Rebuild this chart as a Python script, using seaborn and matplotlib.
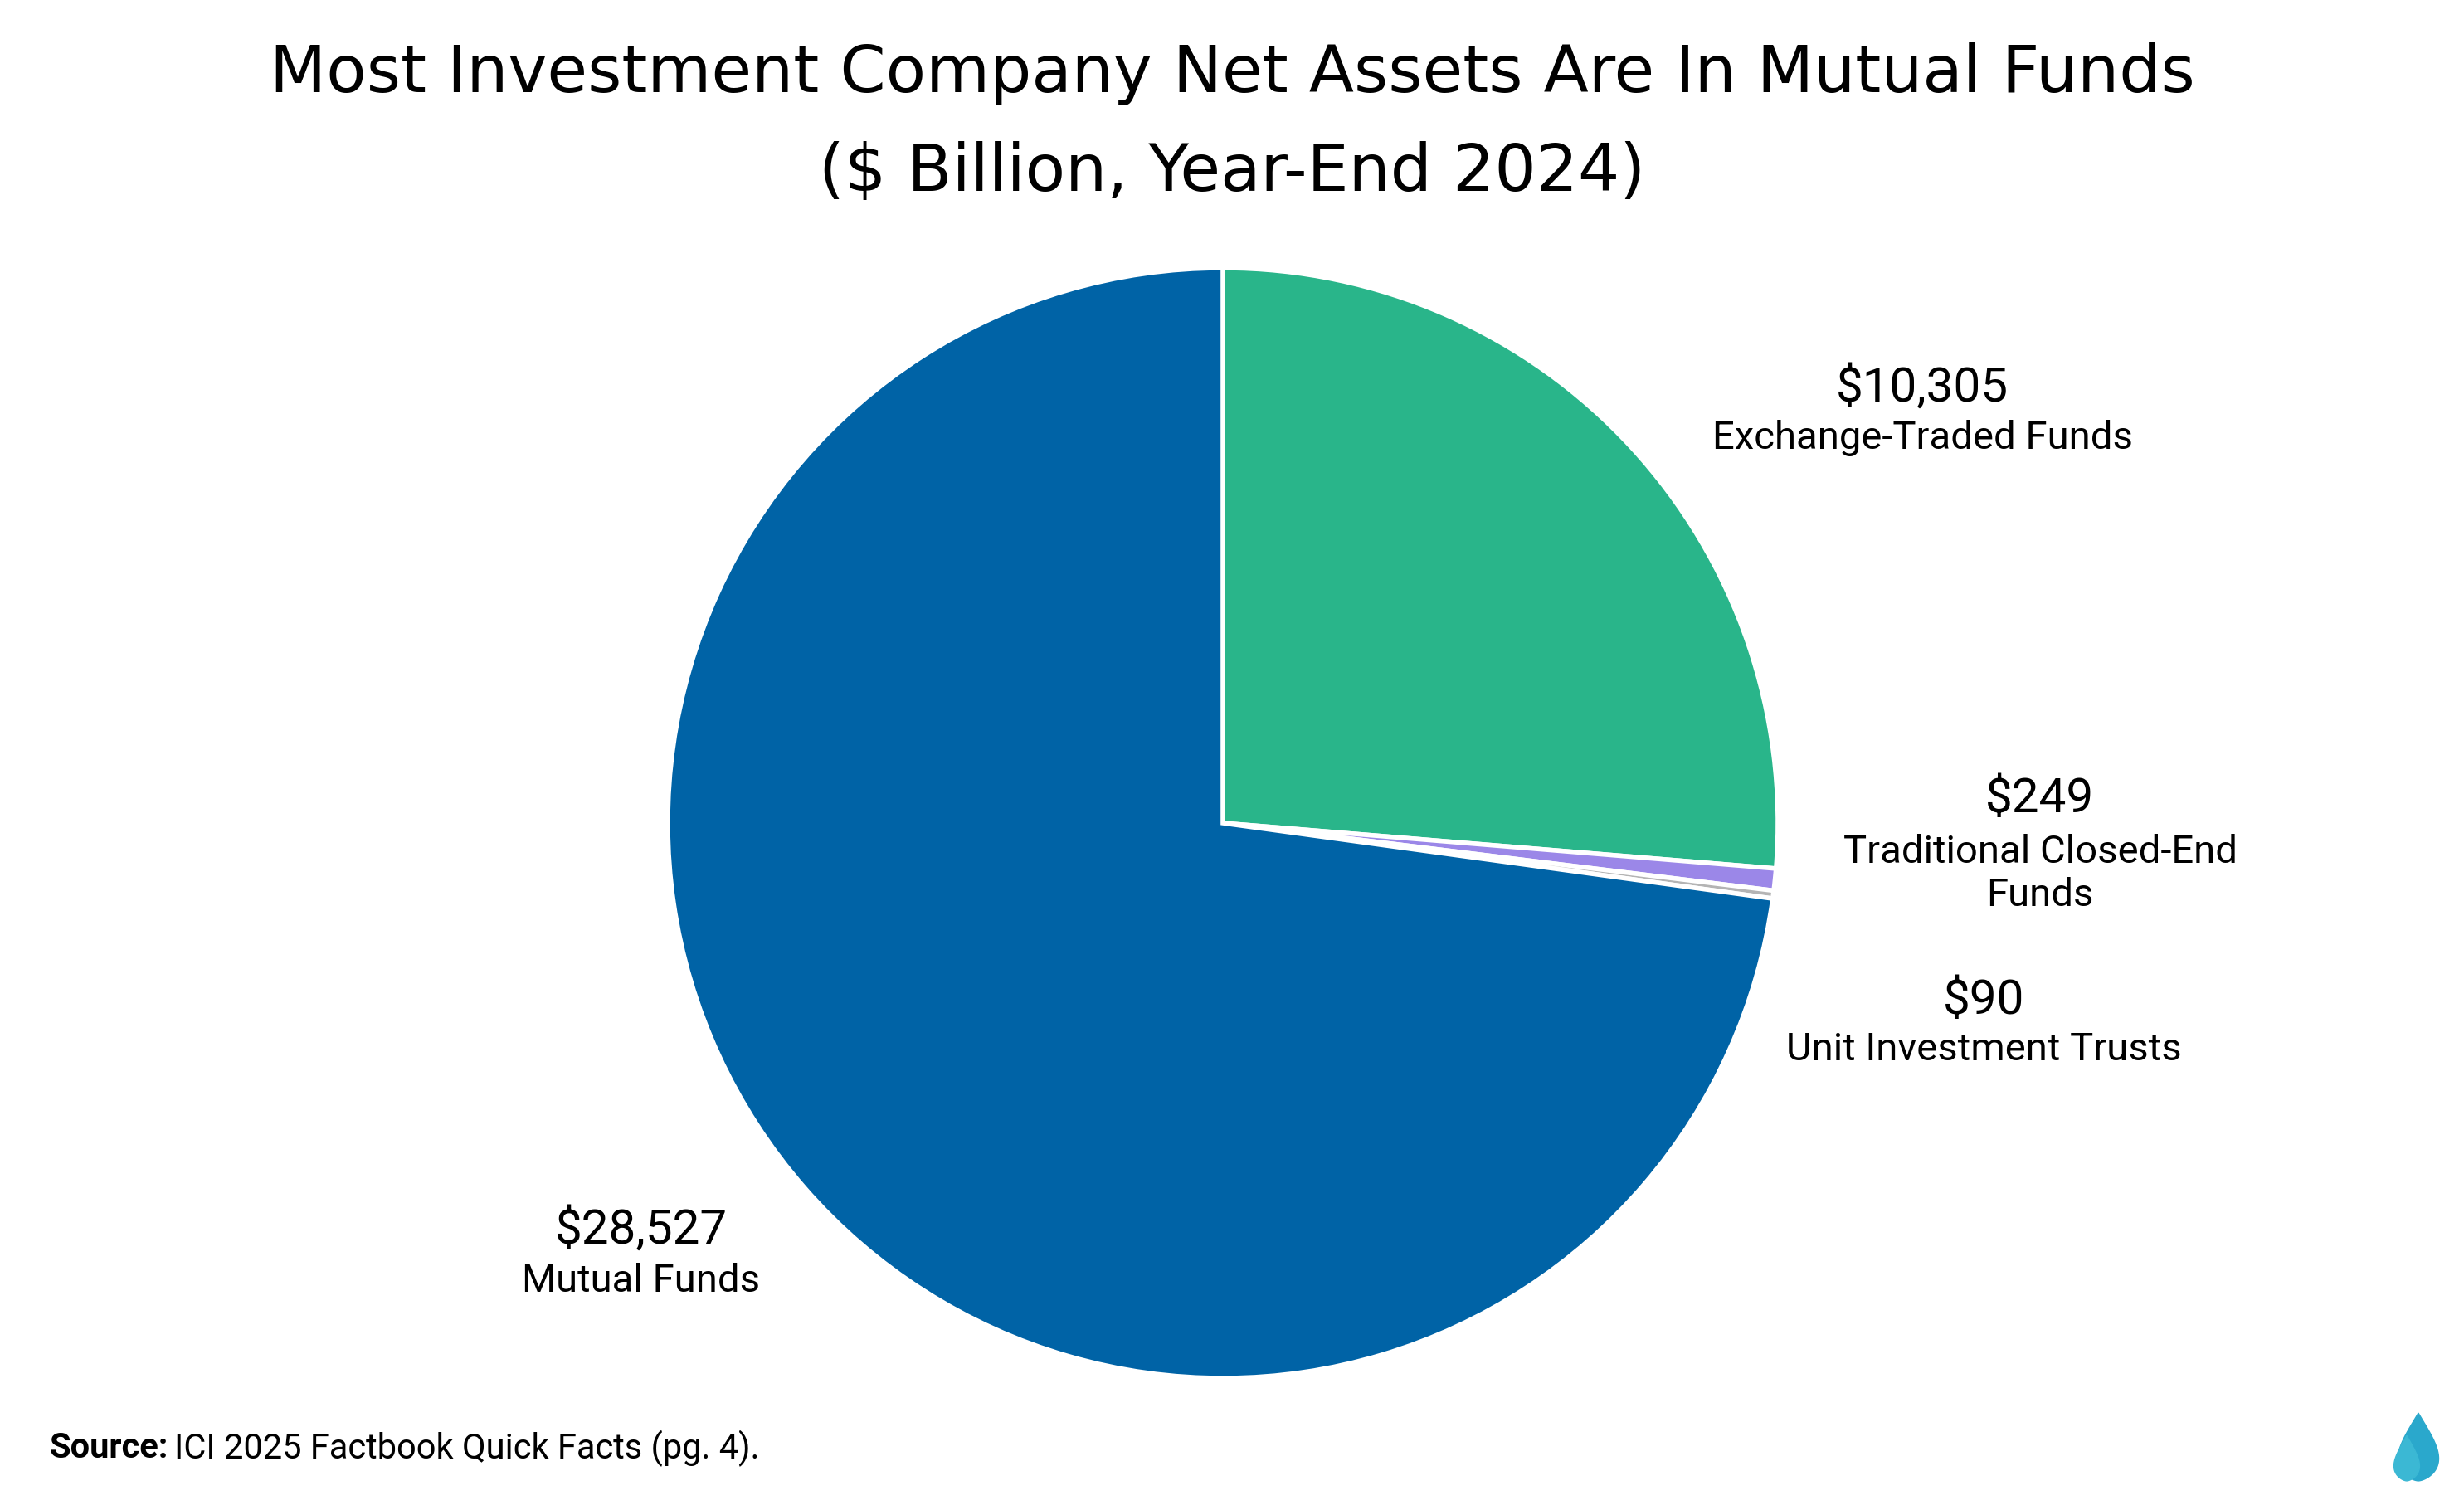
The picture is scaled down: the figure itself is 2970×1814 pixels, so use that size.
import numpy as np
import pandas as pd
import seaborn as sns
import matplotlib.pyplot as plt
from matplotlib import font_manager

# Data (net assets, $ billion, year-end 2024)
categories = ['Exchange-Traded Funds', 'Traditional Closed-End\nFunds', 'Unit Investment Trusts', 'Mutual Funds']
values = [10305, 249, 90, 28527]
value_labels = ['$10,305', '$249', '$90', '$28,527']
colors = ['#29b58a', '#9b87e8', '#b4b4b4', '#0063a6']

df = pd.DataFrame({'category': categories, 'value': values})

sns.set_style('white')
installed = {f.name for f in font_manager.fontManager.ttflist}
narrow = 'Liberation Sans Narrow' if 'Liberation Sans Narrow' in installed else 'Roboto'
plt.rcParams['font.family'] = ['DejaVu Sans']
plt.rcParams['text.color'] = 'black'

W, H = 2970, 1815
fig = plt.figure(figsize=(W / 100, H / 100), dpi=100)
fig.patch.set_facecolor('white')

# pie axes: centre (1474, 993), radius 669 px
cx, cy, r = 1474, 993, 669
ax = fig.add_axes([(cx - r) / W, (H - cy - r) / H, 2 * r / W, 2 * r / H])
ax.pie(df['value'], colors=colors, startangle=90, counterclock=False,
       wedgeprops=dict(edgecolor='white', linewidth=4))
ax.set_xlim(-1, 1)
ax.set_ylim(-1, 1)
ax.axis('off')

# titles
fig.text(0.5, 1 - 89 / H, 'Most Investment Company Net Assets Are In Mutual Funds',
         ha='center', va='center', fontsize=57, color='black')
fig.text(0.5, 1 - 208 / H, '($ Billion, Year-End 2024)',
         ha='center', va='center', fontsize=57, color='black')

# slice labels (pixel positions)
label_pos = [(2317, 468, 528), (2459, 964, 1053), (2391, 1207, 1265), (773, 1483, 1544)]
for (x, yv, yc), v, c in zip(label_pos, value_labels, categories):
    fig.text(x / W, 1 - yv / H, v, ha='center', va='center',
             fontsize=42, family=[narrow, 'DejaVu Sans'])
    fig.text(x / W, 1 - yc / H, c, ha='center', va='center', linespacing=1.2,
             fontsize=34, family=[narrow, 'DejaVu Sans'])

# source note
src = fig.text(60 / W, 1 - 1746 / H, 'Source:', ha='left', va='center',
               fontsize=30, fontweight='bold', family=[narrow, 'DejaVu Sans'])
fig.canvas.draw()
bb = src.get_window_extent()
fig.text((bb.x1 + 6) / W, 1 - 1746 / H, 'ICI 2025 Factbook Quick Facts (pg. 4).',
         ha='left', va='center', fontsize=30, family=[narrow, 'DejaVu Sans'])

# small flame logo, bottom right
lx = fig.add_axes([2880 / W, 20 / H, 70 / W, 100 / H])
t = np.linspace(0, 1, 50)
lx.fill(np.concatenate([0.5 + 0.35 * np.sin(np.pi * t), 0.5 - 0.35 * np.sin(np.pi * t[::-1])]),
        np.concatenate([0.1 + 0.9 * t ** 1.6, 0.1 + 0.9 * t[::-1] ** 1.6]), color='#2aa8cc')
lx.fill(np.concatenate([0.3 + 0.22 * np.sin(np.pi * t), 0.3 - 0.22 * np.sin(np.pi * t[::-1])]),
        np.concatenate([0.1 + 0.6 * t ** 1.6, 0.1 + 0.6 * t[::-1] ** 1.6]), color='#3bb8d4')
lx.set_xlim(0, 1)
lx.set_ylim(0, 1.1)
lx.axis('off')

fig.savefig('out.png', dpi=100, facecolor='white')
